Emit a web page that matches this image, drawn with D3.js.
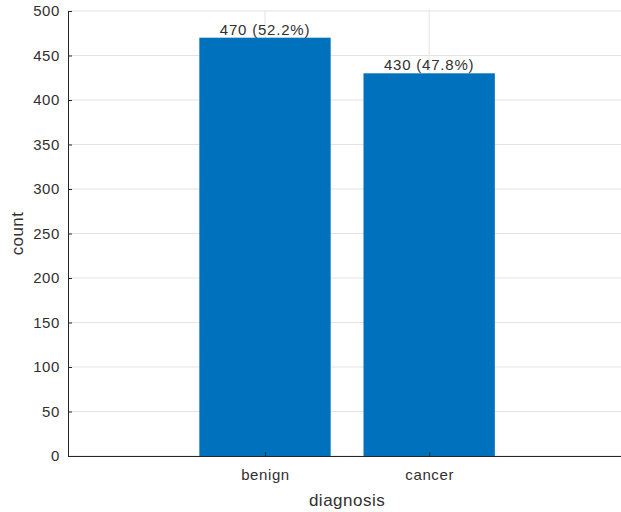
<!DOCTYPE html>
<html><head><meta charset="utf-8">
<script src="https://cdn.jsdelivr.net/npm/d3@7"></script>
<style>body{margin:0;background:#fff}svg{display:block}text{font-family:"Liberation Sans",Arial,sans-serif}</style>
</head><body><svg id="c" width="621" height="512"></svg>
<script>
const categories = ["benign", "cancer"];
const counts = [470, 430];
const yTicks = [0, 50, 100, 150, 200, 250, 300, 350, 400, 450, 500];

(function () {
const svg = d3.select("#c");
const mLeft = 68, mTop = 11, mBottom = 456;
const x = d3.scaleLinear().domain([-0.2, 1]).range([mLeft, 265]);
const y = d3.scaleLinear().domain([0, 500]).range([mBottom, mTop]);
const xPos = i => x(i + 1);
const total = d3.sum(counts);
const mRight = x(3.2);
const bw = x(0.8) - x(0);
const txt = "#303030";

// grid
svg.append("g").selectAll("line").data(yTicks).join("line")
  .attr("x1", mLeft).attr("x2", mRight).attr("y1", d => y(d)).attr("y2", d => y(d))
  .attr("stroke", "#e3e3e3").attr("stroke-width", 1);
svg.append("g").selectAll("line").data(categories).join("line")
  .attr("x1", (d, i) => xPos(i)).attr("x2", (d, i) => xPos(i)).attr("y1", mTop).attr("y2", mBottom)
  .attr("stroke", "#e3e3e3").attr("stroke-width", 1);

// bars
svg.append("g").selectAll("rect").data(counts).join("rect")
  .attr("x", (d, i) => xPos(i) - bw / 2).attr("width", bw)
  .attr("y", d => y(d)).attr("height", d => y(0) - y(d))
  .attr("fill", "#0072BD");

// bar labels
svg.append("g").selectAll("text").data(counts).join("text")
  .attr("x", (d, i) => xPos(i)).attr("y", d => y(d) - 3)
  .attr("text-anchor", "middle").attr("font-size", 15).attr("letter-spacing", 0.8).attr("fill", txt)
  .text(d => `${d} (${(d / total * 100).toFixed(1)}%)`);

// y axis
const yAxis = svg.append("g").attr("transform", `translate(${mLeft},0)`)
  .call(d3.axisLeft(y).tickValues(yTicks).tickSizeInner(-4).tickSizeOuter(0).tickPadding(8));
yAxis.select(".domain").attr("stroke", "#262626");
yAxis.selectAll(".tick line").attr("stroke", "#262626");
yAxis.selectAll("text").attr("font-size", 15).attr("letter-spacing", 0.6).attr("fill", txt).attr("font-family", '"Liberation Sans",Arial,sans-serif');

// x axis
const xAxis = svg.append("g").attr("transform", `translate(0,${mBottom})`)
  .call(d3.axisBottom(x).tickValues([1, 2]).tickFormat((d) => categories[d - 1]).tickSizeInner(-4).tickSizeOuter(0).tickPadding(13));
xAxis.select(".domain").attr("stroke", "#262626").attr("d", `M${mLeft},0.5H${mRight}`);
xAxis.selectAll(".tick line").attr("stroke", "#262626");
xAxis.selectAll("text").attr("font-size", 15).attr("letter-spacing", 0.6).attr("fill", txt).attr("font-family", '"Liberation Sans",Arial,sans-serif');

// axis labels
svg.append("text").attr("transform", `translate(23,${(mTop + mBottom) / 2}) rotate(-90)`)
  .attr("text-anchor", "middle").attr("font-size", 17).attr("letter-spacing", 0.4).attr("fill", txt).text("count");
svg.append("text").attr("x", (mLeft + mRight) / 2).attr("y", 506)
  .attr("text-anchor", "middle").attr("font-size", 17).attr("letter-spacing", 0.5).attr("fill", txt).text("diagnosis");
})();
</script></body></html>
